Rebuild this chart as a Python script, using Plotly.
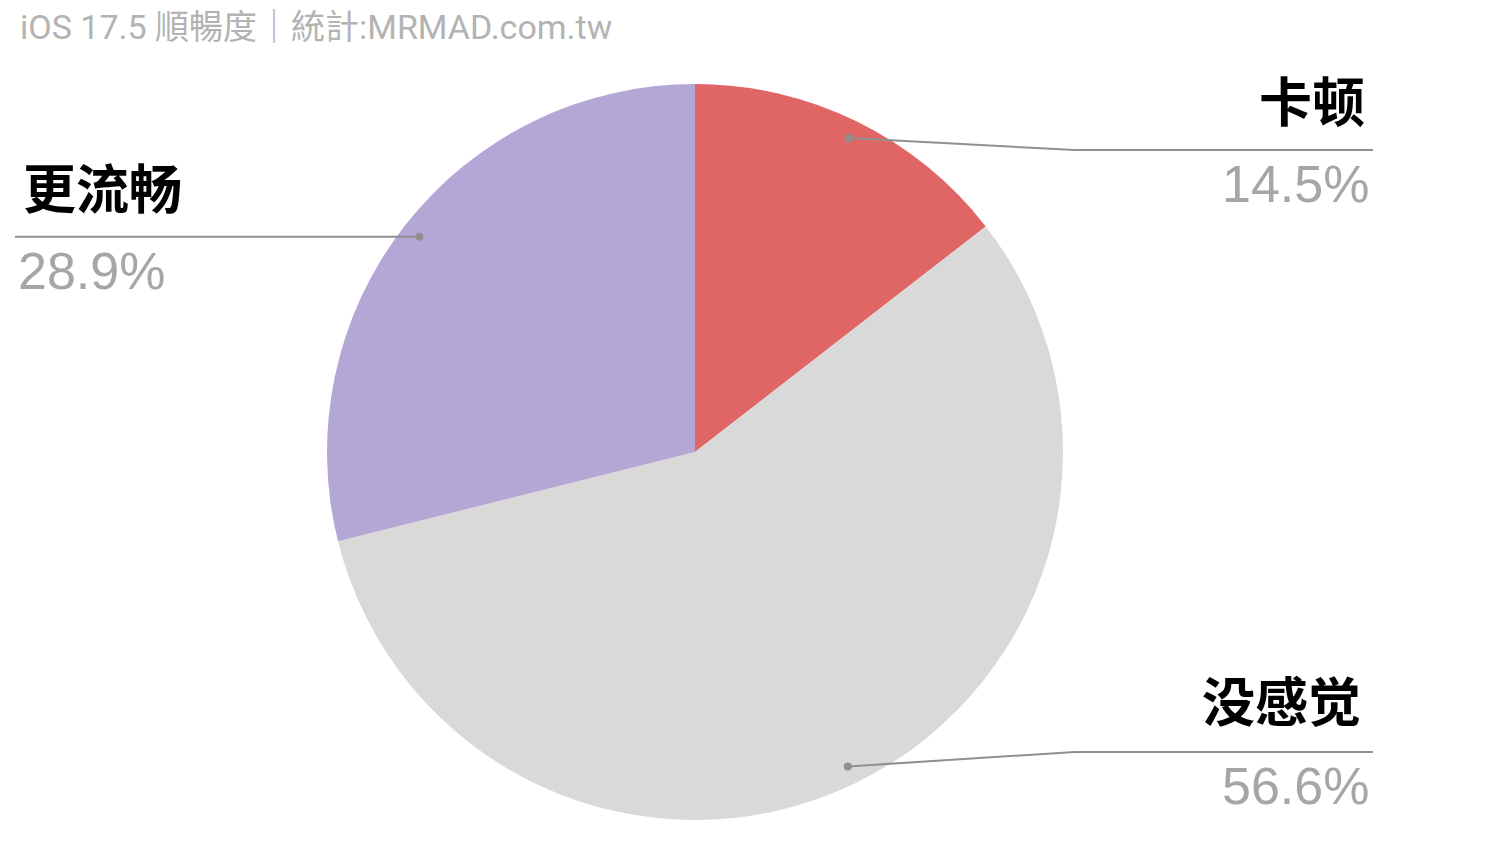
import math
import plotly.graph_objects as go

# ---- data ----
labels = ["卡顿", "没感觉", "更流畅"]
values = [14.5, 56.6, 28.9]
pct_text = ["14.5%", "56.6%", "28.9%"]
colors = ["#E06666", "#D9D9D9", "#B4A7D6"]
title_text = "iOS 17.5 順暢度｜統計:MRMAD.com.tw"

W, H = 1500, 856
OFF = 8  # page body margin
CX, CY, R = 695, 452, 368  # pie centre / radius in screen pixels


def px(x):
    return (x - OFF) / W


def py(y):
    return 1 - (y - OFF) / H


fig = go.Figure()
fig.add_trace(go.Pie(
    labels=labels, values=values, sort=False, direction="clockwise", rotation=0,
    marker=dict(colors=colors, line=dict(width=0)),
    textinfo="none", hoverinfo="label+percent", showlegend=False,
    domain=dict(x=[px(CX - R), px(CX + R)], y=[py(CY + R), py(CY - R)]),
))

# label layout: side, line y (px), line end x (px), label x, label y, pct y
layout_pos = {
    "卡顿": dict(side="right", line_y=150, elbow_x=1075, end_x=1373, lab_x=1367, lab_y=99, pct_x=1371, pct_y=184),
    "没感觉": dict(side="right", line_y=752, elbow_x=1075, end_x=1373, lab_x=1363, lab_y=699, pct_x=1371, pct_y=786),
    "更流畅": dict(side="left", line_y=None, elbow_x=None, end_x=15, lab_x=21, lab_y=186, pct_x=16, pct_y=271),
}

shapes = []
annotations = []
total = sum(values)
cum = 0.0
line_col = "#8f8f8f"
for lab, v, pt in zip(labels, values, pct_text):
    mid = (cum + v / 2) / total * 2 * math.pi
    cum += v
    dx = CX + 0.95 * R * math.sin(mid)
    dy = CY - 0.95 * R * math.cos(mid)
    p = layout_pos[lab]
    if p["side"] == "right":
        pts = [(dx, dy), (p["elbow_x"], p["line_y"]), (p["end_x"], p["line_y"])]
    else:
        pts = [(dx, dy), (p["end_x"], dy)]
    path = "M " + " L ".join(f"{px(a):.5f},{py(b):.5f}" for a, b in pts)
    shapes.append(dict(type="path", xref="paper", yref="paper", path=path,
                       line=dict(color=line_col, width=2)))
    shapes.append(dict(type="circle", xref="paper", yref="paper",
                       x0=px(dx - 4), x1=px(dx + 4), y0=py(dy + 4), y1=py(dy - 4),
                       fillcolor=line_col, line=dict(width=0)))
    anchor = "right" if p["side"] == "right" else "left"
    annotations.append(dict(x=px(p["lab_x"]), y=py(p["lab_y"]), xref="paper", yref="paper",
                            text=f"<b>{lab}</b>", showarrow=False, xanchor=anchor, yanchor="middle",
                            font=dict(family="Noto Sans CJK SC", size=53, color="#000000")))
    annotations.append(dict(x=px(p["pct_x"]), y=py(p["pct_y"]), xref="paper", yref="paper",
                            text=pt, showarrow=False, xanchor=anchor, yanchor="middle",
                            font=dict(family="Liberation Sans, Arial", size=52, color="#a6a6a6")))

annotations.append(dict(x=px(18), y=py(27), xref="paper", yref="paper", text=title_text,
                        showarrow=False, xanchor="left", yanchor="middle",
                        font=dict(family="Roboto, Noto Sans CJK TC", size=34, color="#b3b3b3")))

fig.update_layout(
    width=W, height=H, margin=dict(l=0, r=0, t=0, b=0),
    paper_bgcolor="#ffffff", plot_bgcolor="#ffffff",
    shapes=shapes, annotations=annotations,
)

fig.write_html("out.html")
